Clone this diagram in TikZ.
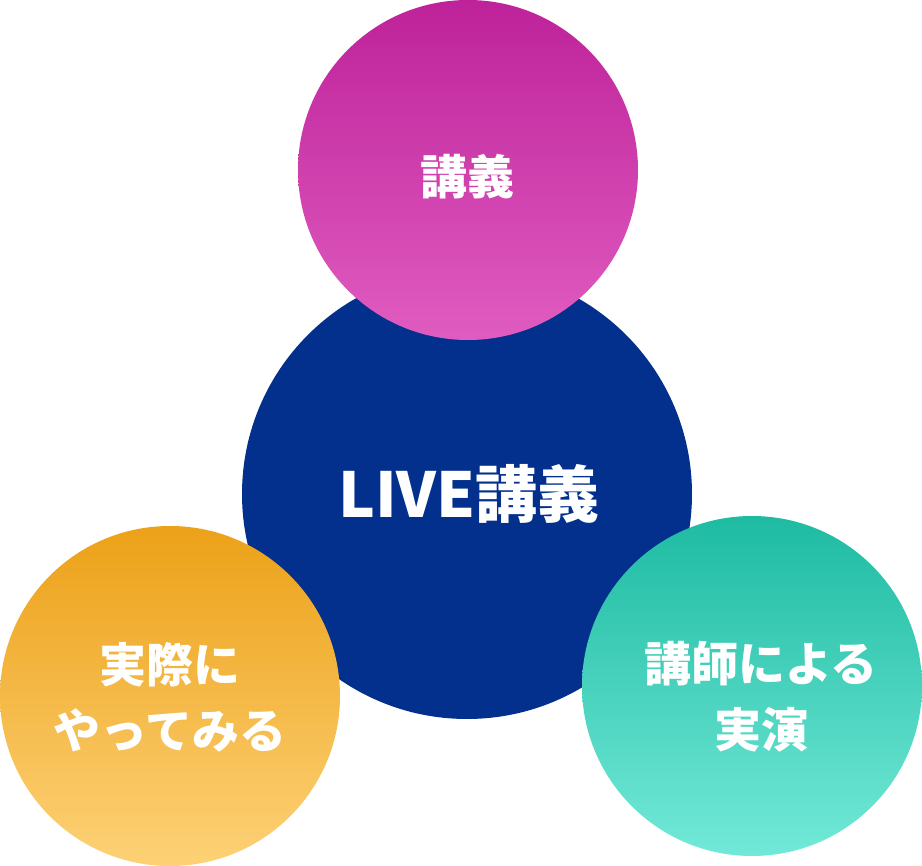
\documentclass[tikz,border=0pt]{standalone}
\usepackage{fontspec}
\newfontfamily\jp{Noto Sans CJK JP}
\definecolor{navy}{RGB}{2,48,140}
\definecolor{magtop}{RGB}{190,34,154}
\definecolor{magbot}{RGB}{224,92,192}
\definecolor{ortop}{RGB}{236,161,24}
\definecolor{orbot}{RGB}{253,209,118}
\definecolor{tltop}{RGB}{30,187,162}
\definecolor{tlbot}{RGB}{114,233,216}
\begin{document}
\begin{tikzpicture}[x=1pt,y=-1pt,
  disc/.style={circle,inner sep=0pt,minimum size=#1*2pt},
  smalltext/.style={text=white,align=center,font=\jp\bfseries\fontsize{47}{66}\selectfont},
  bigtext/.style={text=white,font=\jp\bfseries\fontsize{62}{70}\selectfont}]
\useasboundingbox (0,0) rectangle (922,866);
\node[disc=225,fill=navy] (live) at (467,494) {};
\node[disc=170,top color=magtop,bottom color=magbot] (lec) at (468,170) {};
\node[disc=170,top color=ortop,bottom color=orbot] (try) at (170,696) {};
\node[disc=170,top color=tltop,bottom color=tlbot] (demo) at (752,686) {};
\node[bigtext] (livet) at (469,494) {LIVE講義};
\node[smalltext] (lect) at (467,177) {講義};
\node[smalltext] (tryt) at (170,697) {実際に\\やってみる};
\node[smalltext] (demot) at (761,697) {講師による\\実演};
\end{tikzpicture}
\end{document}
